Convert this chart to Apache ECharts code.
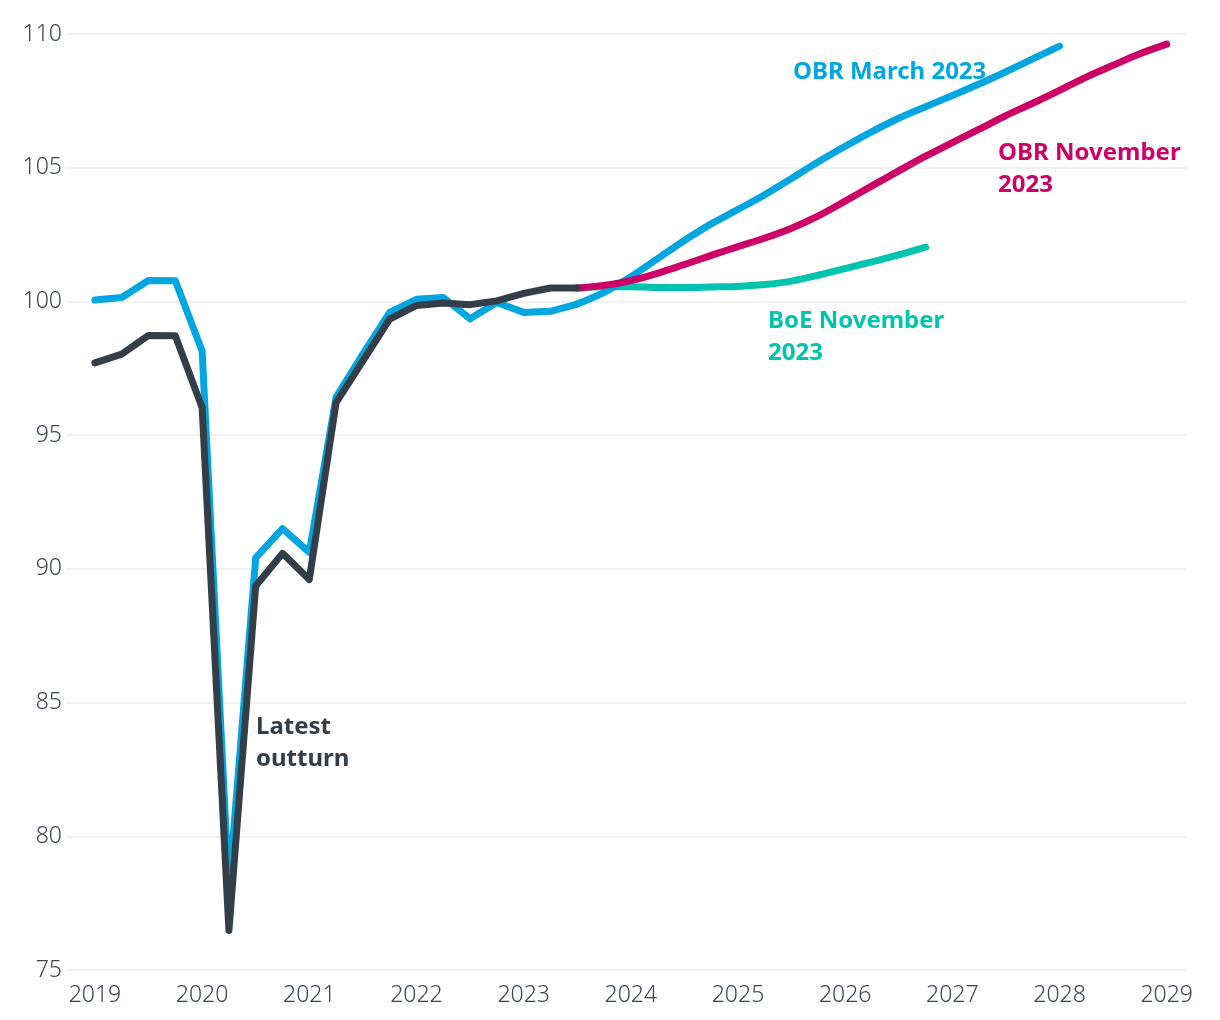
<!DOCTYPE html>
<html>
<head>
<meta charset="utf-8">
<script src="https://cdn.jsdelivr.net/npm/echarts@6/dist/echarts.min.js"></script>
<style>
  html, body { margin: 0; padding: 0; background: #ffffff; }
  #chart { width: 1220px; height: 1020px; }
</style>
</head>
<body>
<div id="chart"></div>
<script>
// ---- Data (quarterly index) ----
const quarters = [
  '2019 Q1','2019 Q2','2019 Q3','2019 Q4',
  '2020 Q1','2020 Q2','2020 Q3','2020 Q4',
  '2021 Q1','2021 Q2','2021 Q3','2021 Q4',
  '2022 Q1','2022 Q2','2022 Q3','2022 Q4',
  '2023 Q1','2023 Q2','2023 Q3','2023 Q4',
  '2024 Q1','2024 Q2','2024 Q3','2024 Q4',
  '2025 Q1','2025 Q2','2025 Q3','2025 Q4',
  '2026 Q1','2026 Q2','2026 Q3','2026 Q4',
  '2027 Q1','2027 Q2','2027 Q3','2027 Q4',
  '2028 Q1','2028 Q2','2028 Q3','2028 Q4',
  '2029 Q1'
];

// Latest outturn: 2019 Q1 .. 2023 Q3
const outturnStart = '2019 Q1';
const outturn = [97.70, 98.03, 98.73, 98.72, 96.03, 76.48, 89.36, 90.58, 89.60,
  96.22, 97.78, 99.34, 99.85, 99.94, 99.88, 100.02, 100.30, 100.50, 100.50];

// OBR March 2023: 2019 Q1 .. 2028 Q1
const obrMarchStart = '2019 Q1';
const obrMarch = [100.05, 100.15, 100.78, 100.77, 98.15, 78.0, 90.41, 91.50, 90.62,
  96.42, 98.03, 99.59, 100.08, 100.15, 99.35, 99.96, 99.59, 99.63, 99.90,
  100.34, 100.92, 101.60, 102.28, 102.90, 103.44, 103.99, 104.60, 105.22,
  105.80, 106.35, 106.85, 107.28, 107.70, 108.13, 108.59, 109.07, 109.55];
const forecastFrom = '2023 Q3';

// OBR November 2023: 2023 Q3 .. 2029 Q1
const obrNovStart = '2023 Q3';
const obrNov = [100.50, 100.60, 100.78, 101.05, 101.38, 101.72, 102.05, 102.37,
  102.74, 103.20, 103.75, 104.32, 104.88, 105.43, 105.94, 106.44, 106.95,
  107.41, 107.89, 108.39, 108.83, 109.26, 109.62];

// BoE November 2023: 2023 Q3 .. 2026 Q4
const boeNovStart = '2023 Q3';
const boeNov = [100.50, 100.55, 100.55, 100.52, 100.52, 100.54, 100.56, 100.63,
  100.76, 100.98, 101.23, 101.48, 101.74, 102.03];

const xTickLabels = ['2019','2020','2021','2022','2023','2024','2025','2026','2027','2028','2029'];
const yMin = 75, yMax = 110, yStep = 5;

// ---- Helpers ----
function qToNum(q) {
  const p = q.split(' Q');
  return Number(p[0]) + (Number(p[1]) - 1) / 4;
}
function toPairs(start, values) {
  const i0 = quarters.indexOf(start);
  return values.map((v, i) => [qToNum(quarters[i0 + i]), v]);
}

const COL_OUT = '#333e48';
const COL_MAR = '#00a6df';
const COL_NOV = '#cc0066';
const COL_BOE = '#00c4ae';
const FONT = '"Noto Sans", "Open Sans", sans-serif';

function lineSeries(name, data, color, z, smooth) {
  return {
    name: name, type: 'line', data: data, z: z,
    symbol: 'none', showSymbol: false, smooth: smooth || false,
    lineStyle: { color: color, width: 7, cap: 'round', join: 'round' },
    emphasis: { disabled: true }, silent: true
  };
}

const marchPairs = toPairs(obrMarchStart, obrMarch);
const cut = marchPairs.findIndex(p => p[0] === qToNum(forecastFrom));

const chart = echarts.init(document.getElementById('chart'), null, { renderer: 'canvas' });

const labelFont = 'bold 24px ' + FONT;
const option = {
  animation: false,
  backgroundColor: '#ffffff',
  grid: { left: 66, right: 34, top: 34, bottom: 50, containLabel: false },
  xAxis: {
    type: 'value',
    min: 2018.73, max: 2029.18,
    axisLine: { show: false },
    axisTick: { show: false },
    splitLine: { show: false },
    axisLabel: {
      customValues: xTickLabels.map(Number),
      formatter: v => String(Math.round(v)),
      fontSize: 23, fontFamily: FONT, fontWeight: 300, color: '#3b4550', margin: 14
    }
  },
  yAxis: {
    type: 'value',
    min: yMin, max: yMax, interval: yStep,
    axisLine: { show: false },
    axisTick: { show: false },
    splitLine: { show: true, lineStyle: { color: '#ededed', width: 1.5 } },
    axisLabel: { fontSize: 23, fontFamily: FONT, fontWeight: 300, color: '#3b4550', margin: 4 }
  },
  series: [
    lineSeries('BoE November 2023', toPairs(boeNovStart, boeNov), COL_BOE, 2, 0.3),
    lineSeries('OBR March 2023', marchPairs.slice(0, cut + 1), COL_MAR, 3, false),
    lineSeries('OBR March 2023 (forecast)', marchPairs.slice(cut), COL_MAR, 3, 0.3),
    lineSeries('OBR November 2023', toPairs(obrNovStart, obrNov), COL_NOV, 4, 0.3),
    lineSeries('Latest outturn', toPairs(outturnStart, outturn), COL_OUT, 5, false)
  ],
  graphic: [
    { type: 'text', left: 793, top: 56, z: 10,
      style: { text: 'OBR March 2023', font: labelFont, fill: COL_MAR, lineHeight: 32 } },
    { type: 'text', left: 998, top: 137, z: 10,
      style: { text: 'OBR November\n2023', font: labelFont, fill: COL_NOV, lineHeight: 32 } },
    { type: 'text', left: 768, top: 305, z: 10,
      style: { text: 'BoE November\n2023', font: labelFont, fill: COL_BOE, lineHeight: 32 } },
    { type: 'text', left: 256, top: 711, z: 10,
      style: { text: 'Latest\noutturn', font: labelFont, fill: COL_OUT, lineHeight: 32 } }
  ]
};
chart.setOption(option);
</script>
</body>
</html>
